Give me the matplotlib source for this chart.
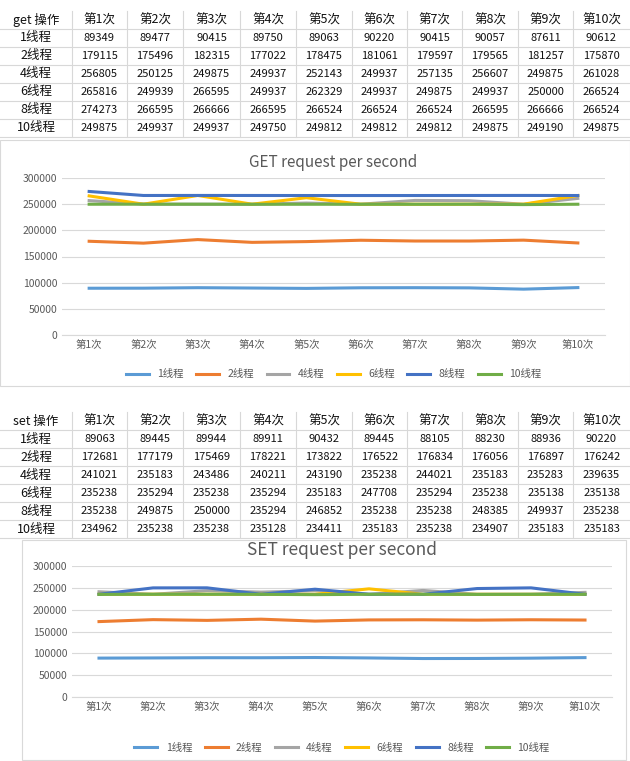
import matplotlib
matplotlib.use("Agg")
import matplotlib.pyplot as plt
from matplotlib.lines import Line2D
from matplotlib.patches import Rectangle

plt.rcParams['font.family'] = ['Noto Sans CJK SC', 'DejaVu Sans']

runs = ['第1次','第2次','第3次','第4次','第5次','第6次','第7次','第8次','第9次','第10次']
threads = ['1线程','2线程','4线程','6线程','8线程','10线程']
get_vals = [
    [89349,89477,90415,89750,89063,90220,90415,90057,87611,90612],
    [179115,175496,182315,177022,178475,181061,179597,179565,181257,175870],
    [256805,250125,249875,249937,252143,249937,257135,256607,249875,261028],
    [265816,249939,266595,249937,262329,249937,249875,249937,250000,266524],
    [274273,266595,266666,266595,266524,266524,266524,266595,266666,266524],
    [249875,249937,249937,249750,249812,249812,249812,249875,249190,249875],
]
set_vals = [
    [89063,89445,89944,89911,90432,89445,88105,88230,88936,90220],
    [172681,177179,175469,178221,173822,176522,176834,176056,176897,176242],
    [241021,235183,243486,240211,243190,235238,244021,235183,235283,239635],
    [235238,235294,235238,235294,235183,247708,235294,235238,235138,235138],
    [235238,249875,250000,235294,246852,235238,235238,248385,249937,235238],
    [234962,235238,235238,235128,234411,235183,235238,234907,235183,235183],
]
colors = ['#5B9BD5','#ED7D31','#A5A5A5','#FFC000','#4472C4','#70AD47']

W, H = 630, 761
fig = plt.figure(figsize=(W/100, H/100), dpi=100)

def fx(x): return x / W
def fy(y): return 1 - y / H

col_edges = [0, 72, 127, 183, 240, 296, 352, 407, 462, 518, 573, 630]

def draw_table(top, header, vals):
    rh = 18
    for r in range(7):
        yc = top + rh * r + rh / 2
        for c in range(11):
            xc = (col_edges[c] + col_edges[c+1]) / 2
            if r == 0:
                t = header if c == 0 else runs[c-1]
                fig.text(fx(xc), fy(yc), t, ha='center', va='center', fontsize=9, color='#111')
            elif c == 0:
                fig.text(fx(xc), fy(yc), threads[r-1], ha='center', va='center', fontsize=9, color='#111')
            else:
                fig.text(fx(xc), fy(yc), str(vals[r-1][c-1]), ha='center', va='center', fontsize=8, color='#111')
        fig.add_artist(Line2D([0, 1], [fy(top + rh*(r+1))]*2, color='#d8d8d8', lw=0.8))
    for e in col_edges[1:-1]:
        fig.add_artist(Line2D([fx(e)]*2, [fy(top), fy(top + rh*7)], color='#d8d8d8', lw=0.8))

draw_table(11, 'get 操作', get_vals)
draw_table(412, 'set 操作', set_vals)

def draw_chart(box, plot, title, vals, title_fs, ly):
    x0, y0, x1, y1 = box
    fig.add_artist(Rectangle((fx(x0), fy(y1)), fx(x1-x0), (y1-y0)/H, fill=False, ec='#d9d9d9', lw=0.8))
    px0, py0, px1, py1 = plot
    ax = fig.add_axes([fx(px0), fy(py1), fx(px1-px0), (py1-py0)/H])
    for i, v in enumerate(vals):
        ax.plot(range(10), v, color=colors[i], lw=2.2, label=threads[i])
    ax.set_xlim(-0.5, 9.5)
    ax.set_ylim(0, 300000)
    ax.set_yticks(range(0, 300001, 50000))
    ax.set_xticks(range(10))
    ax.set_xticklabels(runs)
    ax.tick_params(length=0, labelsize=7.5, colors='#595959')
    ax.grid(axis='y', color='#d9d9d9', lw=0.8)
    ax.set_axisbelow(True)
    for s in ['top', 'right', 'left']:
        ax.spines[s].set_visible(False)
    ax.spines['bottom'].set_color('#d9d9d9')
    ax.set_title(title, fontsize=title_fs, color='#595959', pad=8)
    ax.legend(loc='upper center', bbox_to_anchor=(0.5, ly), ncol=6, frameon=False,
              fontsize=7.5, handlelength=2.2, columnspacing=1.2, labelcolor='#595959')
    return ax

draw_chart((0, 140, 630, 386), (62, 178, 605, 335), 'GET request per second', get_vals, 11, -0.16)
draw_chart((22, 540, 626, 760), (72, 566, 612, 697), 'SET request per second', set_vals, 12.5, -0.28)

fig.savefig('out.png', dpi=100, facecolor='white')
